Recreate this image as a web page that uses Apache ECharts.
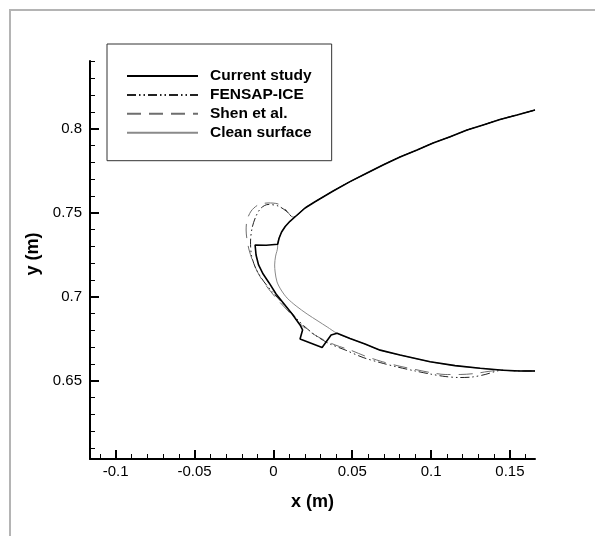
<!DOCTYPE html>
<html>
<head>
<meta charset="utf-8">
<script src="https://cdn.jsdelivr.net/npm/echarts@6/dist/echarts.min.js"></script>
<style>
html,body{margin:0;padding:0;background:#fff;}
#chart{width:595px;height:536px;}
</style>
</head>
<body>
<div id="chart"></div>
<script>
// ---- data (x, y in metres) ----
const xMin = -0.1163, xMax = 0.1659;
const yMin = 0.6034, yMax = 0.8403;
const xMajorTicks = [-0.1, -0.05, 0, 0.05, 0.1, 0.15];
const xMinorTicks = [-0.11,-0.1,-0.09,-0.08,-0.07,-0.06,-0.05,-0.04,-0.03,-0.02,-0.01,0,0.01,0.02,0.03,0.04,0.05,0.06,0.07,0.08,0.09,0.1,0.11,0.12,0.13,0.14,0.15,0.16];
const yMajorTicks = [0.65, 0.7, 0.75, 0.8];
const yMinorTicks = [0.61,0.62,0.63,0.64,0.65,0.66,0.67,0.68,0.69,0.7,0.71,0.72,0.73,0.74,0.75,0.76,0.77,0.78,0.79,0.8,0.81,0.82,0.83,0.84];

const seriesNames = ['Current study', 'FENSAP-ICE', 'Shen et al.', 'Clean surface'];

// upper surface, trailing side -> leading edge (shared by all)
const upperOuter = [
  [0.1659,0.8111],[0.1545,0.8082],[0.1437,0.8055],[0.1330,0.8022],[0.1228,0.7992],
  [0.1121,0.7952],[0.1013,0.7915],[0.0911,0.7873],[0.0803,0.7832],[0.0695,0.7784],
  [0.0594,0.7736],[0.0486,0.7685],[0.0379,0.7629],[0.0264,0.7565],[0.0201,0.7528],
  [0.0138,0.7476]
];
// upper surface continuing to the leading edge (current study / clean)
const upperInner = [
  [0.0105,0.7449],[0.0075,0.7418],[0.0052,0.7385],[0.0036,0.7348],[0.0027,0.7312]
];
// lower surface, leading side -> trailing side
const lowerSurface = [
  [0.0404,0.6782],[0.0486,0.6751],[0.0581,0.6718],[0.0677,0.6682],[0.0803,0.6653],
  [0.0994,0.6613],[0.1152,0.6590],[0.1311,0.6574],[0.1457,0.6562],[0.1565,0.6558],
  [0.1659,0.6558]
];
const currentIce = [
  [0.0023,0.7305],[-0.0046,0.7306],[-0.0116,0.7308],[-0.0110,0.7248],[-0.0094,0.7189],
  [-0.0065,0.7135],[-0.0027,0.7082],[0.0017,0.7016],[0.0068,0.6957],[0.0119,0.6897],
  [0.0169,0.6832],[0.0185,0.6802],[0.0169,0.6748],[0.0309,0.6698],[0.0366,0.6772]
];
const fensapIce = [
  [0.0125,0.7474],[0.0081,0.7510],[0.0030,0.7540],[-0.0034,0.7549],[-0.0078,0.7528],
  [-0.0110,0.7480],[-0.0135,0.7409],[-0.0145,0.7326],[-0.0138,0.7242],[-0.0110,0.7165],
  [-0.0059,0.7088],[0.0011,0.7010],[0.0087,0.6933],[0.0150,0.6867],[0.0201,0.6820],
  [0.0264,0.6772],[0.0347,0.6724],[0.0455,0.6683],[0.0569,0.6638],[0.0677,0.6608],
  [0.0784,0.6582],[0.0899,0.6558],[0.0994,0.6540],[0.1089,0.6525],[0.1184,0.6519],
  [0.1260,0.6522],[0.1343,0.6537],[0.1419,0.6558],[0.1457,0.6562]
];
const shenIce = [
  [0.0125,0.7474],[0.0074,0.7522],[0.0030,0.7552],[-0.0034,0.7558],[-0.0097,0.7546],
  [-0.0141,0.7510],[-0.0167,0.7456],[-0.0173,0.7397],[-0.0167,0.7338],[-0.0154,0.7278],
  [-0.0129,0.7207],[-0.0091,0.7130],[-0.0040,0.7058],[0.0023,0.6986],[0.0093,0.6915],
  [0.0157,0.6849],[0.0233,0.6790],[0.0309,0.6748],[0.0391,0.6713],[0.0486,0.6683],
  [0.0581,0.6647],[0.0677,0.6617],[0.0784,0.6590],[0.0899,0.6567],[0.0994,0.6549],
  [0.1089,0.6537],[0.1184,0.6537],[0.1279,0.6543],[0.1361,0.6555],[0.1437,0.6562]
];
const cleanLeadingEdge = [
  [0.0027,0.7296],[0.0014,0.7242],[0.0008,0.7189],[0.0011,0.7147],[0.0023,0.7088],
  [0.0049,0.7040],[0.0087,0.6992],[0.0144,0.6945],[0.0214,0.6897],[0.0283,0.6855],
  [0.0341,0.6820]
];

// ---- assembled curves ----
const currentStudy = [].concat(upperOuter, upperInner, currentIce, lowerSurface);
const fensap = [].concat(upperOuter, fensapIce, lowerSurface.slice(-2));
const shen = [].concat(upperOuter, shenIce, lowerSurface.slice(-2));
const clean = [].concat(upperOuter, upperInner, cleanLeadingEdge, lowerSurface);

const FONT = "'Liberation Sans', Arial, sans-serif";
const fmt = v => String(+(+v).toFixed(3));

const chart = echarts.init(document.getElementById('chart'), null, {renderer: 'canvas'});
const axisCommon = {
  type: 'value', min: xMin, max: xMax, position: 'bottom',
  splitLine: {show: false}
};
chart.setOption({
  animation: false,
  backgroundColor: '#fff',
  graphic: [{
    type: 'rect', silent: true, z: -10,
    shape: {x: 10, y: 10, width: 620, height: 560},
    style: {fill: 'none', stroke: '#b4b4b4', lineWidth: 2}
  }],
  grid: {left: 90, top: 61, right: 60, bottom: 77, containLabel: false},
  legend: {
    data: seriesNames,
    orient: 'vertical',
    left: 107, top: 44,
    padding: [24, 20, 20, 19],
    itemWidth: 71, itemHeight: 14, itemGap: 2.9,
    borderColor: '#333', borderWidth: 1,
    backgroundColor: '#fff',
    selectedMode: false,
    itemStyle: {opacity: 0},
    lineStyle: {opacity: 1},
    textStyle: {fontFamily: FONT, fontWeight: 'bold', fontSize: 15.5, color: '#000', lineHeight: 14, padding: [0, 0, 0, 7]}
  },
  xAxis: [
    Object.assign({}, axisCommon, {
      name: 'x (m)', nameLocation: 'middle', nameGap: 34,
      nameTextStyle: {fontFamily: FONT, fontWeight: 'bold', fontSize: 18, color: '#000'},
      axisLine: {show: true, onZero: false, lineStyle: {color: '#000', width: 2}},
      axisTick: {show: true, inside: true, length: 9, customValues: xMajorTicks, lineStyle: {color: '#000', width: 2}},
      axisLabel: {show: true, customValues: xMajorTicks, formatter: fmt, margin: 5,
        fontFamily: FONT, fontSize: 15, color: '#000'}
    }),
    Object.assign({}, axisCommon, {
      axisLine: {show: false, onZero: false},
      axisTick: {show: true, inside: true, length: 5, customValues: xMinorTicks, lineStyle: {color: '#000', width: 1}},
      axisLabel: {show: false}
    })
  ],
  yAxis: [
    {
      type: 'value', min: yMin, max: yMax, position: 'left',
      splitLine: {show: false},
      name: 'y (m)', nameLocation: 'middle', nameGap: 36, nameRotate: 90,
      nameTextStyle: {fontFamily: FONT, fontWeight: 'bold', fontSize: 18, color: '#000', padding: [0, 0, 0, 12]},
      axisLine: {show: true, onZero: false, lineStyle: {color: '#000', width: 2}},
      axisTick: {show: true, inside: true, length: 9, customValues: yMajorTicks, lineStyle: {color: '#000', width: 2}},
      axisLabel: {show: true, customValues: yMajorTicks, formatter: fmt, margin: 8,
        fontFamily: FONT, fontSize: 15, color: '#000'}
    },
    {
      type: 'value', min: yMin, max: yMax, position: 'left',
      splitLine: {show: false},
      axisLine: {show: false, onZero: false},
      axisTick: {show: true, inside: true, length: 5, customValues: yMinorTicks, lineStyle: {color: '#000', width: 1}},
      axisLabel: {show: false}
    }
  ],
  series: [
    {
      name: 'Clean surface', type: 'line', data: clean, symbol: 'none', z: 1,
      smooth: 0.3, lineStyle: {color: '#8a8a8a', width: 1}, itemStyle: {color: '#8a8a8a'}
    },
    {
      name: 'Shen et al.', type: 'line', data: shen, symbol: 'none', z: 2,
      smooth: 0.3, lineStyle: {color: '#6e6e6e', width: 1, type: [14, 8]}, itemStyle: {color: '#6e6e6e'}
    },
    {
      name: 'FENSAP-ICE', type: 'line', data: fensap, symbol: 'none', z: 3,
      smooth: 0.3, lineStyle: {color: '#222', width: 1, type: [9, 3, 1.5, 3, 1.5, 3]}, itemStyle: {color: '#222'}
    },
    {
      name: 'Current study', type: 'line', data: currentStudy, symbol: 'none', z: 4,
      lineStyle: {color: '#000', width: 1.6}, itemStyle: {color: '#000'}
    }
  ]
});
</script>
</body>
</html>
